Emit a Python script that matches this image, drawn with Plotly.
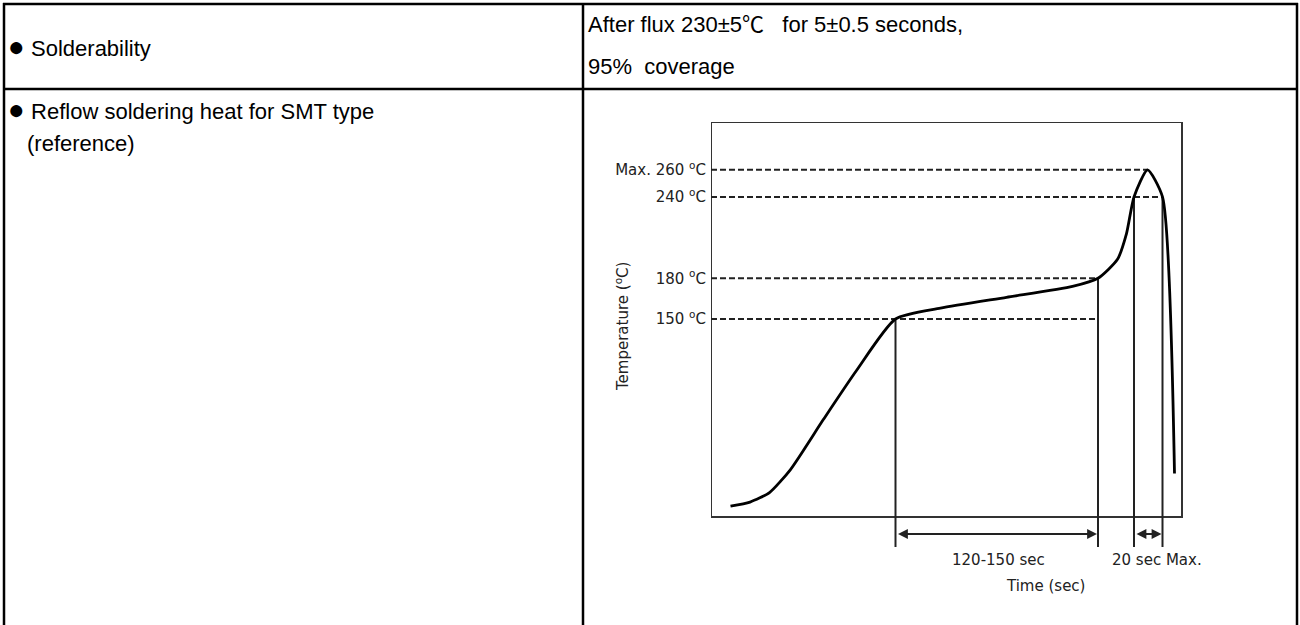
import plotly.graph_objects as go

# ---- data ----
profile_time = [13, 26, 39, 53, 75, 97, 123, 153, 197, 241, 258, 271, 277, 282, 291, 301, 309]
profile_temp = [12, 15, 22, 39, 76, 112, 150, 158, 166, 174, 180, 194, 213, 240, 260, 240, 36]

level_temps = [150, 180, 240, 260]
level_labels = ["150 <sup>o</sup>C", "180 <sup>o</sup>C", "240 <sup>o</sup>C", "Max. 260 <sup>o</sup>C"]
level_end_time = [258, 258, 301, 291]

marker_times = [123, 258, 282, 301]
marker_top_temps = [150, 180, 240, 240]

span_starts = [123, 282]
span_ends = [258, 301]
span_labels = ["120-150 sec", "20 sec Max."]

box_time = [0, 314]
box_temp = [4, 295.3]

bullet = "<span style=\"font-size:28px\">\u25CF</span>"
cjk = "<span style=\"font-family:Noto Sans CJK SC\">{}</span>"
row_labels = [bullet + " Solderability", bullet + " Reflow soldering heat for SMT type", "(reference)"]
cond_lines = ["After flux 230\u00b15" + cjk.format("\u2103") + "\u00a0\u00a0 for 5\u00b10.5 seconds,",
              "95% \u00a0coverage"]

W, H = 1300, 625
def px(x):
    return x / W
def py(y):
    return 1 - y / H

S_T = 1.356  # px per degC
def T_at(ypix):
    return 150 + (319 - ypix) / S_T
def t_at(xpix):
    return (xpix - 711) / 1.5

fig = go.Figure()

fig.add_trace(go.Scatter(
    x=[box_time[0], box_time[1], box_time[1], box_time[0], box_time[0]],
    y=[box_temp[0], box_temp[0], box_temp[1], box_temp[1], box_temp[0]],
    mode="lines", line=dict(color="#333333", width=2), hoverinfo="skip", showlegend=False))

for T, te in zip(level_temps, level_end_time):
    fig.add_trace(go.Scatter(x=[0, te], y=[T, T], mode="lines",
                             line=dict(color="#222222", width=2, dash="6px,3px"),
                             hoverinfo="skip", showlegend=False))

bottom_T = T_at(547)
for t, T in zip(marker_times, marker_top_temps):
    fig.add_trace(go.Scatter(x=[t, t], y=[T, bottom_T], mode="lines",
                             line=dict(color="#222222", width=2),
                             hoverinfo="skip", showlegend=False))

fig.add_trace(go.Scatter(x=profile_time, y=profile_temp, mode="lines",
                         line=dict(color="black", width=2.8, shape="spline", smoothing=0.6),
                         hoverinfo="skip", showlegend=False))

arrow_T = T_at(534)
label_T = T_at(560)
for s, e in zip(span_starts, span_ends):
    fig.add_annotation(x=e, y=arrow_T, ax=s, ay=arrow_T, xref="x", yref="y", axref="x", ayref="y",
                       text="", showarrow=True, arrowhead=2, startarrowhead=2, arrowside="end+start",
                       arrowsize=1.1, startarrowsize=1.1, arrowwidth=1.8, arrowcolor="#222222",
                       standoff=1, startstandoff=1)

cfont = dict(family="DejaVu Sans", size=15, color="#222222")
fig.add_annotation(x=t_at(998), y=label_T, xref="x", yref="y", text=span_labels[0], showarrow=False,
                   font=cfont, xanchor="center", yanchor="middle")
fig.add_annotation(x=t_at(1110), y=label_T, xref="x", yref="y", text=span_labels[1], showarrow=False,
                   font=cfont, xanchor="left", yanchor="middle")
fig.add_annotation(x=t_at(1045), y=T_at(586), xref="x", yref="y", text="Time (sec)", showarrow=False,
                   font=cfont, xanchor="center", yanchor="middle")
fig.add_annotation(x=px(622), y=py(327), xref="paper", yref="paper", text="Temperature (<sup>o</sup>C)",
                   showarrow=False, textangle=-90, font=cfont, xanchor="center", yanchor="middle")

tfont = dict(family="Liberation Sans, Arial", size=22, color="black")
fig.add_annotation(x=px(6), y=py(46), xref="paper", yref="paper", text=row_labels[0], showarrow=False,
                   font=tfont, xanchor="left", yanchor="middle")
fig.add_annotation(x=px(6), y=py(110), xref="paper", yref="paper", text=row_labels[1], showarrow=False,
                   font=tfont, xanchor="left", yanchor="middle")
fig.add_annotation(x=px(25), y=py(143), xref="paper", yref="paper", text=row_labels[2], showarrow=False,
                   font=tfont, xanchor="left", yanchor="middle")
fig.add_annotation(x=px(586), y=py(22), xref="paper", yref="paper", text=cond_lines[0], showarrow=False,
                   font=tfont, xanchor="left", yanchor="middle")
fig.add_annotation(x=px(586), y=py(66), xref="paper", yref="paper", text=cond_lines[1], showarrow=False,
                   font=tfont, xanchor="left", yanchor="middle")

lw = 2.5
grid = [
    (3, 4, 1298, 4),
    (4, 3, 4, 625),
    (583, 3, 583, 625),
    (1297, 3, 1297, 625),
    (3, 89, 1298, 89),
]
for x0, y0, x1, y1 in grid:
    fig.add_shape(type="line", xref="paper", yref="paper", x0=px(x0), y0=py(y0), x1=px(x1), y1=py(y1),
                  line=dict(color="black", width=lw))

fig.update_layout(
    width=W, height=H, margin=dict(l=0, r=0, t=0, b=0),
    paper_bgcolor="white", plot_bgcolor="white",
    xaxis=dict(domain=[px(711), px(1200)], range=[0, t_at(1200)], showgrid=False, zeroline=False,
               showticklabels=False, showline=False, ticks=""),
    yaxis=dict(domain=[py(600), py(122)], range=[T_at(600), T_at(122)], showgrid=False, zeroline=False,
               showline=False, ticks="", tickvals=level_temps, ticktext=level_labels,
               tickfont=dict(family="DejaVu Sans", size=15, color="#222222"), ticklabelstandoff=4),
)

fig.write_html("out.html", config={"displayModeBar": False},
               post_script="document.body.style.margin='0';document.body.style.overflow='hidden';")
